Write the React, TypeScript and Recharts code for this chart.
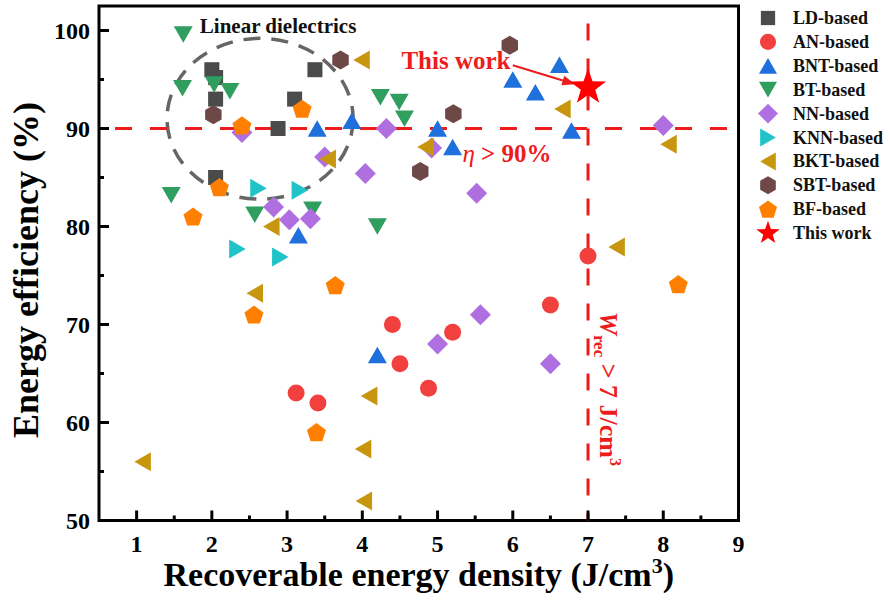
import { Legend, ReferenceArea, ReferenceDot, ReferenceLine, Scatter, ScatterChart, XAxis, YAxis } from 'recharts';

// [energy density J/cm3, efficiency %]
const ldBased = [[2.0, 96], [2.05, 95.2], [2.05, 93], [2.88, 90], [3.1, 93], [3.37, 96], [2.05, 85]];
const anBased = [[3.12, 63], [3.41, 62], [4.4, 70], [4.5, 66], [4.88, 63.5], [5.2, 69.2], [6.5, 72], [7.0, 77]];
const bntBased = [[3.4, 90], [3.86, 90.8], [3.15, 79.1], [4.2, 66.9], [5.0, 90], [5.2, 88.1], [6.0, 95], [6.3, 93.7], [6.62, 96.5], [6.78, 89.8]];
const btBased = [[1.62, 99.6], [1.61, 94.1], [2.03, 94.5], [2.24, 93.8], [1.46, 83.2], [2.57, 81.2], [3.34, 81.7], [4.2, 80], [4.24, 93.2], [4.49, 92.7], [4.56, 91]];
const nnBased = [[2.4, 89.6], [2.82, 82], [3.03, 80.7], [3.31, 80.8], [3.5, 87.1], [4.04, 85.4], [4.32, 90], [4.92, 88], [5.0, 68], [5.52, 83.4], [5.57, 71], [6.5, 66], [8.0, 90.3]];
const knnBased = [[2.34, 77.7], [2.62, 83.9], [2.91, 76.9], [3.17, 83.7]];
const bktBased = [[1.08, 56], [2.57, 73.2], [2.79, 80], [3.54, 86.9], [3.99, 97], [4.01, 57.3], [4.02, 52], [4.09, 62.7], [4.84, 88.1], [6.66, 92], [7.38, 77.9], [8.07, 88.4]];
const sbtBased = [[2.02, 91.4], [3.71, 97], [4.77, 85.6], [5.21, 91.5], [5.96, 98.5]];
const bfBased = [[1.75, 81], [2.1, 84], [2.4, 90.3], [2.56, 71], [3.2, 92], [3.39, 59], [3.64, 74], [8.2, 74.1]];
const thisWork = [[7.0, 94.2]];

const xTicks = [1, 1.5, 2, 2.5, 3, 3.5, 4, 4.5, 5, 5.5, 6, 6.5, 7, 7.5, 8, 8.5, 9];
const yTicks = [50, 55, 60, 65, 70, 75, 80, 85, 90, 95, 100];

const series = [
  { name: 'LD-based', data: ldBased, kind: 'square', color: '#4b4b4b' },
  { name: 'AN-based', data: anBased, kind: 'circle', color: '#f2403f' },
  { name: 'BNT-based', data: bntBased, kind: 'up', color: '#1f6fdc' },
  { name: 'BT-based', data: btBased, kind: 'down', color: '#2f9e5f' },
  { name: 'NN-based', data: nnBased, kind: 'diamond', color: '#b06fe0' },
  { name: 'KNN-based', data: knnBased, kind: 'right', color: '#1fc3c8' },
  { name: 'BKT-based', data: bktBased, kind: 'left', color: '#c8960e' },
  { name: 'SBT-based', data: sbtBased, kind: 'hexagon', color: '#6e4747' },
  { name: 'BF-based', data: bfBased, kind: 'pentagon', color: '#ff8000' },
  { name: 'This work', data: thisWork, kind: 'star', color: '#ff0000' },
];

const toPoints = (arr: number[][]) => arr.map(([x, y]) => ({ x, y }));

const serif = '"Liberation Serif", "Times New Roman", serif';
const red = '#ee1c1c';

function poly(cx: number, cy: number, r: number, n: number, start: number) {
  const pts = [];
  for (let i = 0; i < n; i++) {
    const a = ((start + (360 / n) * i) * Math.PI) / 180;
    pts.push(`${cx + r * Math.cos(a)},${cy + r * Math.sin(a)}`);
  }
  return pts.join(' ');
}

function Marker({ kind, cx, cy, fill, s = 1 }: any) {
  if (cx == null || cy == null) return null;
  const w = 9.5 * s;
  const h = 16.5 * s;
  switch (kind) {
    case 'square':
      return <rect x={cx - 7.5 * s} y={cy - 7.5 * s} width={15 * s} height={15 * s} fill={fill} />;
    case 'circle':
      return <circle cx={cx} cy={cy} r={8.5 * s} fill={fill} />;
    case 'up':
      return <polygon points={`${cx},${cy - h / 2} ${cx + w},${cy + h / 2} ${cx - w},${cy + h / 2}`} fill={fill} />;
    case 'down':
      return <polygon points={`${cx},${cy + h / 2} ${cx + w},${cy - h / 2} ${cx - w},${cy - h / 2}`} fill={fill} />;
    case 'left':
      return <polygon points={`${cx - h / 2},${cy} ${cx + h / 2},${cy - w} ${cx + h / 2},${cy + w}`} fill={fill} />;
    case 'right':
      return <polygon points={`${cx + h / 2},${cy} ${cx - h / 2},${cy - w} ${cx - h / 2},${cy + w}`} fill={fill} />;
    case 'diamond':
      return <polygon points={poly(cx, cy, 10.5 * s, 4, -90)} fill={fill} />;
    case 'hexagon':
      return <polygon points={poly(cx, cy, 9.5 * s, 6, -90)} fill={fill} />;
    case 'pentagon':
      return <polygon points={poly(cx, cy + 0.8 * s, 10 * s, 5, -90)} fill={fill} />;
    case 'star': {
      const pts = [];
      for (let i = 0; i < 10; i++) {
        const r = i % 2 === 0 ? 19 * s : 7.6 * s;
        const a = ((-90 + 36 * i) * Math.PI) / 180;
        pts.push(`${cx + r * Math.cos(a)},${cy + r * Math.sin(a)}`);
      }
      return <polygon points={pts.join(' ')} fill={fill} />;
    }
    default:
      return null;
  }
}

const XTick = ({ x, y, payload }: any) => {
  const v = payload.value;
  const major = Number.isInteger(v);
  const ay = y - 2;
  return (
    <g>
      <line x1={x} x2={x} y1={ay} y2={ay - (major ? 10 : 5)} stroke="#000" strokeWidth={3} />
      {major && (
        <text x={x} y={ay + 31} textAnchor="middle" fontFamily={serif} fontWeight="bold" fontSize={24} fill="#000">
          {v}
        </text>
      )}
    </g>
  );
};

const YTick = ({ x, y, payload }: any) => {
  const v = payload.value;
  const major = v % 10 === 0;
  const ax = x + 2;
  return (
    <g>
      <line x1={ax} x2={ax + (major ? 10 : 5)} y1={y} y2={y} stroke="#000" strokeWidth={3} />
      {major && (
        <text x={ax - 9} y={y + 8} textAnchor="end" fontFamily={serif} fontWeight="bold" fontSize={24} fill="#000">
          {v}
        </text>
      )}
    </g>
  );
};

const XLabel = (props: any) => {
  const vb = props.viewBox;
  return (
    <text x={vb.x + vb.width / 2} y={vb.y + 65} textAnchor="middle" fontFamily={serif} fontWeight="bold" fontSize={34} fill="#000">
      <tspan>Recoverable energy density (J/cm</tspan>
      <tspan dy={-13} fontSize={22}>3</tspan>
      <tspan dy={13}>)</tspan>
    </text>
  );
};

const YLabel = (props: any) => {
  const vb = props.viewBox;
  const x = vb.x + 38;
  const y = vb.y + 264;
  return (
    <text
      x={x}
      y={y}
      transform={`rotate(-90 ${x} ${y})`}
      textAnchor="middle"
      fontFamily={serif}
      fontWeight="bold"
      fontSize={36}
      fill="#000"
    >
      Energy efficiency (%)
    </text>
  );
};

const renderLegend = () => (
  <svg width={135} height={250}>
    {series.map((s, i) => {
      const cy = 17 + i * 23.9;
      return (
        <g key={s.name}>
          <Marker kind={s.kind} cx={13} cy={cy} fill={s.color} s={s.kind === 'star' ? 0.65 : 0.95} />
          <text x={38} y={cy + 6} fontFamily={serif} fontWeight="bold" fontSize={18} fill="#111">
            {s.name}
          </text>
        </g>
      );
    })}
  </svg>
);

const Ellipse = (p: any) => (
  <ellipse
    cx={p.x + p.width / 2}
    cy={p.y + p.height / 2}
    rx={p.width / 2}
    ry={p.height / 2}
    fill="none"
    stroke="#666"
    strokeWidth={3.5}
    strokeDasharray="17 11"
  />
);

const Arrow = (p: any) => {
  const { x1, y1, x2, y2 } = p;
  const a = Math.atan2(y2 - y1, x2 - x1);
  const L = 13;
  const W = 5;
  const bx = x2 - L * Math.cos(a);
  const by = y2 - L * Math.sin(a);
  return (
    <g>
      <line x1={x1} y1={y1} x2={bx} y2={by} stroke={red} strokeWidth={2} />
      <polygon
        points={`${x2},${y2} ${bx + W * Math.sin(a)},${by - W * Math.cos(a)} ${bx - W * Math.sin(a)},${by + W * Math.cos(a)}`}
        fill={red}
      />
    </g>
  );
};

export default function App() {
  return (
    <div style={{ position: 'absolute', left: 0, top: 0, background: '#fff' }}>
      <ScatterChart width={890} height={601} margin={{ top: 6, right: 151.5, left: 0, bottom: 0 }}>
        <XAxis
          type="number"
          dataKey="x"
          domain={[0.5, 9]}
          ticks={xTicks}
          interval={0}
          allowDataOverflow
          axisLine={false}
          tickLine={false}
          tickSize={0}
          tickMargin={2}
          height={80.5}
          tick={<XTick />}
          label={XLabel}
        />
        <YAxis
          type="number"
          dataKey="y"
          domain={[50, 102.5]}
          ticks={yTicks}
          interval={0}
          allowDataOverflow
          axisLine={false}
          tickLine={false}
          tickSize={0}
          tickMargin={2}
          width={99}
          tick={<YTick />}
          label={YLabel}
        />
        <ReferenceArea x1={0.5} x2={9} y1={50} y2={102.5} fill="none" stroke="#000" strokeWidth={3} ifOverflow="visible" />
        <ReferenceLine y={90} stroke={red} strokeWidth={3} strokeDasharray="17 18" strokeDashoffset={19} />
        <ReferenceLine x={7} stroke={red} strokeWidth={3} strokeDasharray="17 18" strokeDashoffset={10} />
        <ReferenceArea x1={1.404} x2={3.878} y1={82.79} y2={99.2} ifOverflow="visible" shape={Ellipse} />
        {series.map((s) => (
          <Scatter
            key={s.name}
            name={s.name}
            data={toPoints(s.data)}
            fill={s.color}
            isAnimationActive={false}
            shape={(p: any) => <Marker kind={s.kind} cx={p.cx} cy={p.cy} fill={s.color} />}
          />
        ))}
        <ReferenceLine
          segment={[{ x: 6.0, y: 96.45 }, { x: 6.83, y: 94.52 }]}
          ifOverflow="visible"
          shape={Arrow}
        />
        <ReferenceDot
          x={1.84}
          y={99.7}
          ifOverflow="visible"
          shape={(p: any) => (
            <text x={p.cx} y={p.cy} fontFamily={serif} fontWeight="bold" fontSize={21} fill="#111">
              Linear dielectrics
            </text>
          )}
        />
        <ReferenceDot
          x={4.52}
          y={96.05}
          ifOverflow="visible"
          shape={(p: any) => (
            <text x={p.cx} y={p.cy} fontFamily={serif} fontWeight="bold" fontSize={25} fill={red}>
              This work
            </text>
          )}
        />
        <ReferenceDot
          x={5.33}
          y={86.6}
          ifOverflow="visible"
          shape={(p: any) => (
            <text x={p.cx} y={p.cy} fontFamily={serif} fontWeight="bold" fontSize={25} fill={red}>
              <tspan fontStyle="italic" fontWeight="normal">η</tspan>
              <tspan> &gt; 90%</tspan>
            </text>
          )}
        />
        <ReferenceDot
          x={7.16}
          y={71.3}
          ifOverflow="visible"
          shape={(p: any) => (
            <text
              x={p.cx}
              y={p.cy}
              transform={`rotate(90 ${p.cx} ${p.cy})`}
              fontFamily={serif}
              fontWeight="bold"
              fontSize={26}
              fill={red}
            >
              <tspan fontStyle="italic">W</tspan>
              <tspan dy={6} fontSize={17}>rec</tspan>
              <tspan dy={-6}> &gt; 7 J/cm</tspan>
              <tspan dy={-10} fontSize={16}>3</tspan>
            </text>
          )}
        />
        <Legend
          layout="vertical"
          align="center"
          verticalAlign="middle"
          content={renderLegend}
          wrapperStyle={{ left: 755, top: 1, width: 135 }}
        />
      </ScatterChart>
    </div>
  );
}
